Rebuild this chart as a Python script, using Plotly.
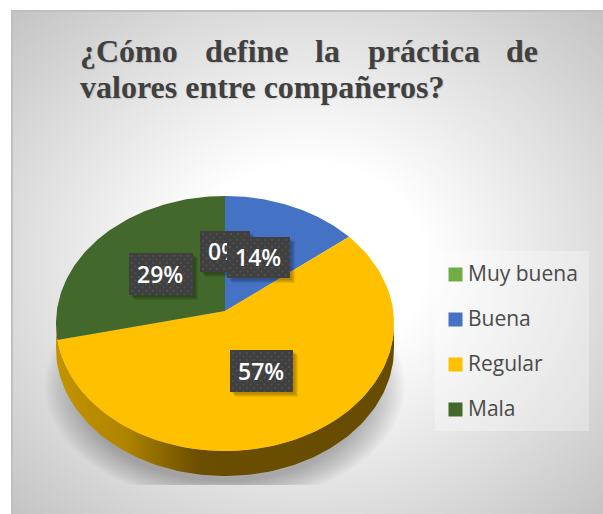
import numpy as np
import plotly.graph_objects as go

# Chart data
categories = ["Muy buena", "Buena", "Regular", "Mala"]
percent = [0, 14.3, 57.1, 28.6]
colors = ["#70ad47", "#4472c4", "#ffc000", "#43682b"]
title_line1 = ["¿Cómo", "define", "la", "práctica", "de"]
title_line2 = "valores entre compañeros?"

# Layout constants, in page pixels
W, H = 603, 514
LEFT, TOP = 13, 12
VX, VY = 225, 311            # pie apex
A, B, K = 168.2, 126.3, 0.098  # tilted pie projection
DEPTH = 25
title_x = [80, 205, 315, 368, 506]
label_boxes = {"Muy buena": (200, 231, 250, 272), "Buena": (227, 237, 290, 278),
               "Regular": (230, 350, 293, 392), "Mala": (129, 253, 193, 295)}
legend_y = [274, 319, 364, 409]


def project(theta):
    # theta in degrees, clockwise from twelve o'clock
    t = np.radians(theta)
    d = 1 + K * np.cos(t)
    return VX + A * np.sin(t) / d, VY - B * np.cos(t) / d


def poly(fig, x, y, color=None, **kw):
    fig.add_trace(go.Scatter(x=list(x), y=list(y), mode="lines", fill="toself",
                             fillcolor=color, line=dict(width=0), hoverinfo="skip",
                             showlegend=False, **kw))


def rect(fig, x0, y0, x1, y1, color):
    poly(fig, [x0, x1, x1, x0, x0], [y0, y0, y1, y1, y0], color)


fig = go.Figure()

# Background
cx, cy = (LEFT + W) / 2, (TOP + H) / 2
hw, hh = (W - LEFT) / 2 * 1.414, (H - TOP) / 2 * 1.414
poly(fig, [cx - hw, cx + hw, cx + hw, cx - hw, cx - hw], [cy - hh, cy - hh, cy + hh, cy + hh, cy - hh],
     fillgradient=dict(type="radial", colorscale=[[0, "#ffffff"], [0.28, "#ffffff"], [0.7, "#dddddd"], [1, "#c4c4c4"]]))

# Soft shadow below the pie, cut flat at the bottom
t = np.linspace(0, 360, 181)
for s in np.linspace(1.0, 0.82, 14):
    poly(fig, 225 + 180 * s * np.sin(np.radians(t)),
         np.minimum(385 - 118 * s * np.cos(np.radians(t)), 485), "rgba(0,0,0,0.02)")

# Pie side
front = np.linspace(95, 265, 120)
fx, fy = project(front)
poly(fig, np.r_[fx, fx[::-1]], np.r_[fy, fy[::-1] + DEPTH],
     fillgradient=dict(type="horizontal",
                       colorscale=[[0, "#c39300"], [0.2, "#b08500"], [0.42, "#6b4e00"], [1, "#664c00"]]))

# Pie top
start = 0
for name, val, col in zip(categories, percent, colors):
    end = start + val * 3.6
    if val > 0:
        wx, wy = project(np.linspace(start, end, 90))
        poly(fig, np.r_[VX, wx, VX], np.r_[VY, wy, VY], col)
    start = end

# Data labels
for name, val in zip(categories, percent):
    x0, y0, x1, y1 = label_boxes[name]
    for off in (2, 3, 4, 5):
        rect(fig, x0 + off, y0 + off, x1 + off, y1 + off, "rgba(0,0,0,0.08)")
    rect(fig, x0, y0, x1, y1, "#404040")
    dx, dy = [], []
    for j, yy in enumerate(np.arange(y0 + 3, y1, 3.5)):
        for xx in np.arange(x0 + 3 + (j % 2) * 3.5, x1, 7):
            dx.append(xx)
            dy.append(yy)
    fig.add_trace(go.Scatter(x=dx, y=dy, mode="markers", hoverinfo="skip", showlegend=False,
                             marker=dict(size=2, color="rgba(255,255,255,0.1)")))
    fig.add_trace(go.Scatter(x=[x0 + 8], y=[(y0 + y1) / 2 + 3], mode="text", text=[f"{val:.0f}%"],
                             textposition="middle right", hoverinfo="skip", showlegend=False,
                             textfont=dict(family="Open Sans", size=23, color="#ffffff", weight=600)))

# Legend
rect(fig, 435, 251, 589, 431, "rgba(255,255,255,0.3)")
fig.add_trace(go.Scatter(x=[455.5] * 4, y=[y + 0.5 for y in legend_y], mode="markers", hoverinfo="skip",
                         showlegend=False, marker=dict(symbol="square", size=14, color=colors)))
fig.add_trace(go.Scatter(x=[468] * 4, y=[y + 2 for y in legend_y], mode="text", text=categories,
                         textposition="middle right", hoverinfo="skip", showlegend=False,
                         textfont=dict(family="Open Sans", size=21, color="#4a4a4a")))

# Title, first line is justified word by word
title_font = dict(family="Liberation Serif", size=32, color="#404040", weight="bold",
                  shadow="1px 1px 1px rgba(0,0,0,0.12)")
for word, x in zip(title_line1, title_x):
    fig.add_annotation(x=x, y=51, text=word, showarrow=False, xanchor="left", yanchor="middle",
                       xshift=-2, font=title_font)
fig.add_annotation(x=80, y=87, text=title_line2, showarrow=False, xanchor="left", yanchor="middle",
                   xshift=-2, font=title_font)

fig.update_layout(
    width=W, height=H,
    margin=dict(l=LEFT, r=0, t=TOP, b=0),
    paper_bgcolor="#ffffff", plot_bgcolor="#ffffff",
    showlegend=False,
    xaxis=dict(range=[LEFT, W], side="top", showgrid=False, zeroline=False, showticklabels=False,
               ticks="", showline=True, linecolor="#bfbfbf", linewidth=2, fixedrange=True),
    yaxis=dict(range=[H, TOP], showgrid=False, zeroline=False, showticklabels=False,
               ticks="", showline=True, linecolor="#bfbfbf", linewidth=2, fixedrange=True),
)

fig.write_html("out.html", config=dict(displayModeBar=False),
               post_script="document.body.style.margin='0';document.body.style.overflow='hidden';")
